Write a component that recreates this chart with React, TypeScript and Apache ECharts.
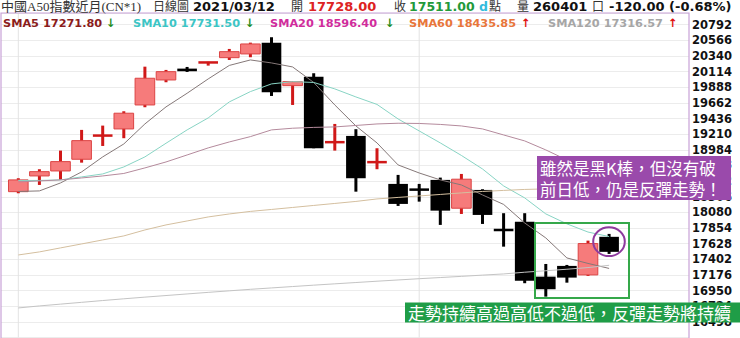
import React, { useEffect, useRef } from "react";
import * as echarts from "echarts";

// ---------- data ----------
const dates = [
  "2021/02/01", "2021/02/02", "2021/02/03", "2021/02/04", "2021/02/05",
  "2021/02/08", "2021/02/09", "2021/02/10", "2021/02/11", "2021/02/15",
  "2021/02/16", "2021/02/17", "2021/02/18", "2021/02/19", "2021/02/22",
  "2021/02/23", "2021/02/24", "2021/02/25", "2021/02/26", "2021/03/01",
  "2021/03/02", "2021/03/03", "2021/03/04", "2021/03/05", "2021/03/08",
  "2021/03/09", "2021/03/10", "2021/03/11", "2021/03/12",
];
const opens = [
  18380, 18607, 18679, 18848, 19185, 19286, 19632, 19993, 20157, 20239,
  20315, 20369, 20532, 19911, 20041, 19088, 19185, 18799, 18492, 18417,
  18550, 18141, 18405, 17835, 17947, 17153, 17308, 17178, 17728,
];
const closes = [
  18550, 18669, 18814, 19117, 19195, 19513, 20018, 20113, 20119, 20253,
  20402, 20513, 19816, 19969, 19007, 19102, 18574, 18814, 18203, 18402,
  18106, 18560, 18044, 17820, 17095, 16971, 17139, 17631, 17511,
];
const lows = [
  18357, 18477, 18550, 18799, 19040, 19152, 19599, 19960, 20109, 20200,
  20282, 20321, 19762, 19632, 19007, 18973, 18380, 18704, 18174, 18236,
  17900, 18058, 17914, 17586, 17058, 16864, 17066, 17163, 17481,
];
const highs = [
  18574, 18704, 18973, 19272, 19334, 19541, 20185, 20138, 20181, 20255,
  20441, 20532, 20610, 19969, 20090, 19358, 19282, 19007, 18622, 18492,
  18583, 18636, 18415, 18069, 18069, 17336, 17322, 17673, 17770,
];
const sma5 = [
  18383, 18391, 18506, 18665, 18882, 19069, 19358, 19604, 19801, 20008,
  20203, 20282, 20239, 20181, 19957, 19632, 19329, 19084, 18766, 18650,
  18550, 18477, 18333, 18196, 17928, 17712, 17423, 17344, 17271.8,
];
const sma10 = [
  18542, 18542, 18550, 18593, 18636, 18737, 18882, 19079, 19272, 19445,
  19676, 19825, 19936, 19969, 19957, 19864, 19748, 19640, 19430, 19257,
  19084, 18903, 18708, 18463, 18290, 18059, 17915, 17797, 17731.5,
];
const sma20 = [
  18521, 18535, 18550, 18578, 18607, 18643, 18723, 18809, 18910, 19012,
  19098, 19175, 19272, 19296, 19308, 19315, 19336, 19358, 19368, 19365,
  19351, 19329, 19286, 19199, 19113, 18983, 18838, 18708, 18596.4,
];
const sma60 = [
  17466, 17510, 17568, 17625, 17683, 17741, 17827, 17900, 17957, 18015,
  18058, 18095, 18123, 18152, 18181, 18210, 18239, 18275, 18297, 18318,
  18340, 18362, 18383, 18398, 18412, 18420, 18427, 18431, 18435.85,
];
const sma120 = [
  16701, 16730, 16756, 16782, 16808, 16833, 16857, 16880, 16903, 16926,
  16948, 16970, 16990, 17010, 17030, 17049, 17068, 17087, 17105, 17123,
  17140, 17157, 17175, 17192, 17217, 17238, 17260, 17284, 17316.57,
];
const monthStarts = [0, 19];
const volume = 260401;
const yMin = 16272;
const yMax = 20960;
const yInterval = 226;

const smaNames = ["SMA5", "SMA10", "SMA20", "SMA60", "SMA120"];
const smaSeries = [sma5, sma10, sma20, sma60, sma120];
const smaTextColors = ["#8b1c1c", "#3cc5c5", "#d02c9c", "#e8763a", "#a6a6a6"];
const smaLineColors = ["#857878", "#88d4c4", "#b48a9c", "#d4bf9f", "#c4c4c4"];
const smaLegendX = [3, 133, 270, 409, 548];
const smaArrowX = [106, 245, 385, 521, 668];

const SANS = "'DejaVu Sans', Verdana, sans-serif";
const SERIF = "'Liberation Serif', 'Noto Sans CJK TC', serif";
const CJK = "'Noto Sans CJK TC', sans-serif";

function buildOption() {
  const n = closes.length;
  const candleData = dates.map((_, i) => [i, opens[i], closes[i], lows[i], highs[i]]);
  const lastClose = closes[n - 1];
  const prevClose = closes[n - 2];
  const chg = lastClose - prevClose;
  const pct = (chg / prevClose) * 100;

  const graphic: any[] = [];
  const txt = (x: number, y: number, text: string, fill: string, fontSize: number, fontFamily: string, fontWeight = "normal", align = "left") => ({
    type: "text",
    x,
    y,
    z: 100,
    style: {
      text,
      fill,
      fontSize,
      fontFamily,
      fontWeight,
      textAlign: align,
      align,
      textVerticalAlign: "middle",
      verticalAlign: "middle",
    },
  });

  // header
  graphic.push(txt(1, 6.5, "中國A50指數近月(CN*1)", "#333", 13, SERIF));
  graphic.push(txt(153, 6.5, "日線圖", "#333", 12, SERIF));
  graphic.push(txt(193, 6.5, dates[n - 1], "#111", 13, SANS, "bold"));
  graphic.push(txt(291, 6.5, "開", "#333", 12, SERIF));
  graphic.push(txt(308, 6.5, opens[n - 1].toFixed(2), "#dd2222", 13, SANS, "bold"));
  graphic.push(txt(394, 6.5, "收", "#333", 12, SERIF));
  graphic.push(txt(409, 6.5, lastClose.toFixed(2), "#22993a", 12.5, SANS, "bold"));
  graphic.push(txt(479, 6.5, "d", "#33bbdd", 12.5, SANS, "bold"));
  graphic.push(txt(489, 6.5, "點", "#333", 12, SERIF));
  graphic.push(txt(517, 6.5, "量", "#333", 12, SERIF));
  graphic.push(txt(533, 6.5, String(volume), "#111", 13, SANS, "bold"));
  graphic.push(txt(592, 6.5, "口", "#333", 12, SERIF));
  graphic.push(txt(609, 6.5, `${chg.toFixed(2)} (${pct.toFixed(2)}%)`, "#111", 13, SANS, "bold"));

  // SMA legend row
  smaNames.forEach((name, k) => {
    const arr = smaSeries[k];
    const last = arr[n - 1];
    const up = last >= arr[n - 2];
    graphic.push(txt(smaLegendX[k], 23.3, `${name} ${last.toFixed(2)}`, smaTextColors[k], 11.3, SANS, "bold"));
    graphic.push(txt(smaArrowX[k], 23.3, up ? "↑" : "↓", up ? "#e01010" : "#1e8c1e", 11.5, SANS, "bold"));
  });

  // plot box border
  graphic.push({
    type: "polyline",
    z: 90,
    shape: { points: [[1, 338], [1, 13], [689, 13], [689, 338]] },
    style: { stroke: "#c8a2d8", lineWidth: 1.2, fill: null },
  });

  // annotations
  graphic.push({
    type: "rect",
    z: 95,
    shape: { x: 535, y: 223, width: 94, height: 75 },
    style: { fill: null, stroke: "#35a84a", lineWidth: 2 },
  });
  graphic.push({
    type: "ellipse",
    z: 95,
    shape: { cx: 609, cy: 241.7, rx: 15.8, ry: 14.4 },
    style: { fill: null, stroke: "#8e3a9e", lineWidth: 2 },
  });
  graphic.push({
    type: "rect",
    z: 96,
    shape: { x: 537, y: 156, width: 194, height: 44 },
    style: { fill: "#9a4aab" },
  });
  graphic.push(txt(540, 168.3, "雖然是黑K棒，但沒有破", "#fff", 16.5, CJK));
  graphic.push(txt(540, 189.3, "前日低，仍是反彈走勢！", "#fff", 16.5, CJK));
  graphic.push({
    type: "rect",
    z: 96,
    shape: { x: 405, y: 302.5, width: 335, height: 20 },
    style: { fill: "#1f9d47" },
  });
  graphic.push(txt(408, 312.5, "走勢持續高過高低不過低，反彈走勢將持續", "#fff", 17, CJK));

  const series: any[] = [
    {
      type: "custom",
      name: "month",
      z: 1,
      silent: true,
      data: monthStarts.map((i) => [i]),
      encode: { x: 0 },
      renderItem: (params: any, api: any) => {
        const x = api.coord([api.value(0), yMin])[0];
        const cs = params.coordSys;
        return {
          type: "line",
          shape: { x1: x, y1: cs.y, x2: x, y2: cs.y + cs.height },
          style: { stroke: "#e3e3e3", lineWidth: 1 },
        };
      },
    },
    {
      type: "custom",
      name: "K",
      z: 2,
      data: candleData,
      encode: { x: 0, y: [1, 2, 3, 4] },
      renderItem: (params: any, api: any) => {
        const i = api.value(0);
        const o = api.value(1);
        const c = api.value(2);
        const l = api.value(3);
        const h = api.value(4);
        const [x, yo] = api.coord([i, o]);
        const yc = api.coord([i, c])[1];
        const yl = api.coord([i, l])[1];
        const yh = api.coord([i, h])[1];
        const w = api.size([1, 0])[0] * 0.93;
        const up = c >= o;
        let top = Math.min(yo, yc);
        let hgt = Math.abs(yo - yc);
        const thin = hgt < 2.5;
        if (thin) {
          top = (yo + yc) / 2 - 1.25;
          hgt = 2.5;
        }
        const wickColor = up ? "#d01818" : "#000";
        return {
          type: "group",
          children: [
            {
              type: "rect",
              shape: { x: x - 1.5, y: yh, width: 3, height: Math.max(yl - yh, 1) },
              style: { fill: wickColor },
            },
            {
              type: "rect",
              shape: { x: x - w / 2, y: top, width: w, height: hgt },
              style: up
                ? thin
                  ? { fill: wickColor }
                  : { fill: "#f67b7b", stroke: "#dc4444", lineWidth: 1 }
                : { fill: "#000" },
            },
          ],
        };
      },
    },
  ];
  smaSeries.forEach((arr, k) => {
    series.push({
      type: "line",
      name: smaNames[k],
      z: 3,
      silent: true,
      showSymbol: false,
      symbol: "none",
      data: arr.map((v, i) => [i, v]),
      lineStyle: { color: smaLineColors[k], width: 1 },
    });
  });

  return {
    animation: false,
    backgroundColor: "#fff",
    grid: {
      left: 1,
      right: 51,
      top: 13,
      bottom: 0.35,
      containLabel: false,
      outerBoundsMode: "none",
    },
    xAxis: {
      type: "value",
      min: -0.82,
      max: 31.787,
      show: false,
      splitLine: { show: false },
    },
    yAxis: {
      type: "value",
      position: "right",
      min: yMin,
      max: yMax,
      interval: yInterval,
      axisLine: { show: false },
      axisTick: { show: false },
      axisLabel: {
        margin: 3,
        color: "#111",
        fontSize: 11.5,
        fontWeight: "bold",
        fontFamily: SANS,
        showMinLabel: false,
        showMaxLabel: false,
        formatter: (v: number) => (v % yInterval === 0 ? String(v) : ""),
      },
      splitLine: { show: true, lineStyle: { color: "#ececec", width: 1 } },
    },
    series,
    graphic,
  };
}

export default function App() {
  const ref = useRef<HTMLDivElement>(null);
  useEffect(() => {
    const chart = echarts.init(ref.current!, null, { renderer: "svg" });
    chart.setOption(buildOption() as any);
    return () => chart.dispose();
  }, []);
  return (
    <div
      ref={ref}
      style={{ position: "fixed", left: 0, top: 0, width: 740, height: 338, background: "#fff" }}
    />
  );
}
